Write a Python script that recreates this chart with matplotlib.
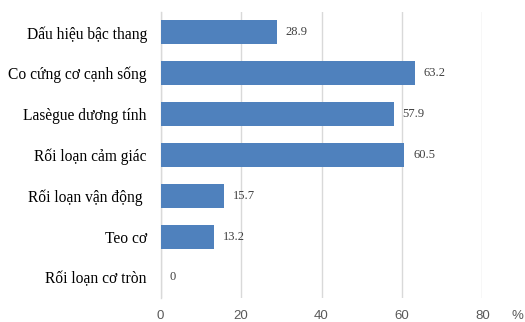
import matplotlib
matplotlib.use("Agg")
import matplotlib.pyplot as plt

categories = [
    "Dấu hiệu bậc thang",
    "Co cứng cơ cạnh sống",
    "Lasègue dương tính",
    "Rối loạn cảm giác",
    "Rối loạn vận động ",
    "Teo cơ",
    "Rối loạn cơ tròn",
]
values = [28.9, 63.2, 57.9, 60.5, 15.7, 13.2, 0]
x_ticks = [0, 20, 40, 60, 80]
unit_label = "%"

plt.rcParams["font.family"] = ["Liberation Serif", "DejaVu Serif"]
sans = ["Liberation Sans", "DejaVu Sans"]

fig = plt.figure(figsize=(5.25, 3.22), dpi=100)
ax = fig.add_axes([0.306, 0.075, 0.613, 0.888])

pos = list(range(len(categories)))
ax.barh(pos, values, height=0.585, color="#4F81BD", linewidth=0, zorder=3)
ax.set_ylim(len(categories) - 0.5, -0.5)
ax.set_xlim(0, 80)

for p, v in zip(pos, values):
    ax.annotate(f"{v:g}", xy=(v, p), xytext=(6.5, 0), textcoords="offset points",
                va="center", ha="left", fontsize=9, color="#404040")

ax.set_yticks(pos)
ax.set_yticklabels(categories, fontsize=11.2, color="#000000")
ax.set_xticks(x_ticks)
ax.set_xticklabels([str(t) for t in x_ticks], family=sans, fontsize=9.5,
                   color="#595959")
ax.tick_params(axis="both", length=0)
ax.tick_params(axis="y", pad=10)
ax.tick_params(axis="x", pad=9)

ax.grid(axis="x", color="#D9D9D9", linewidth=1, zorder=0)
for s in ["top", "right", "bottom"]:
    ax.spines[s].set_visible(False)
ax.spines["left"].set_color("#D9D9D9")
ax.spines["left"].set_linewidth(1)

fig.text(517 / 525, 1 - 316 / 322, unit_label, ha="center", va="center",
         family=sans, fontsize=9.5, color="#595959")

fig.savefig("out.png", dpi=100)
